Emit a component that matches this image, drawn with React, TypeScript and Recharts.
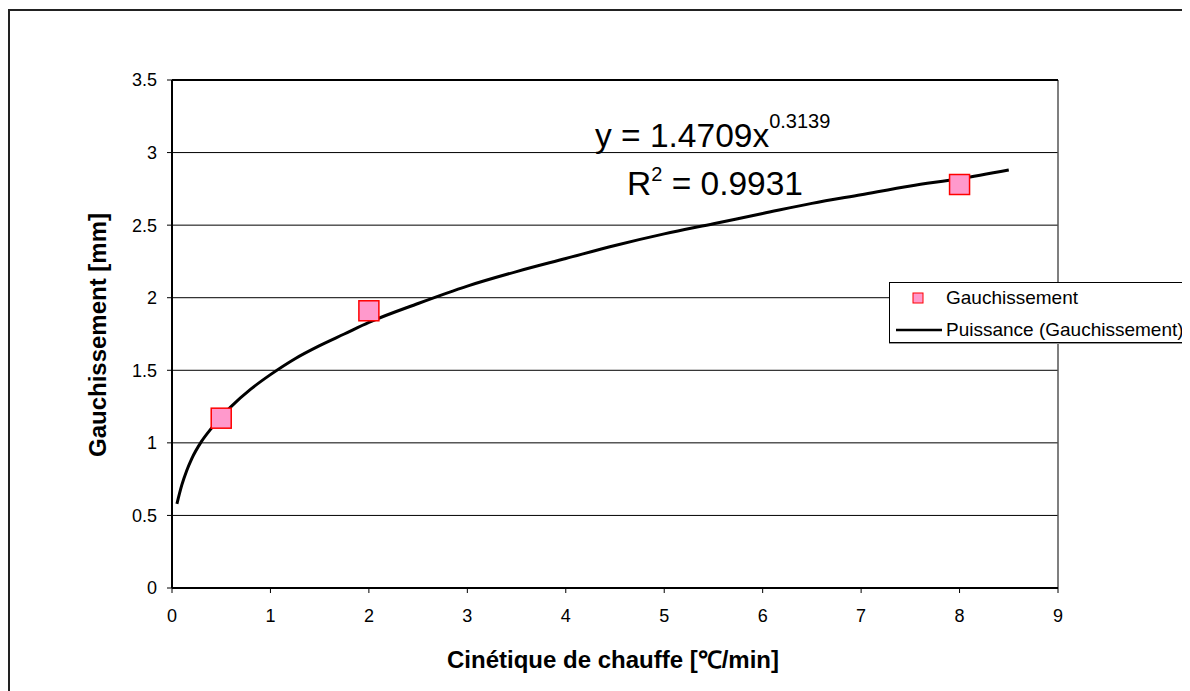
import React from "react";
import { ComposedChart, Line, Scatter, XAxis, YAxis, CartesianGrid, ReferenceLine, Legend } from "recharts";

// measured points
const rateX = [0.5, 2, 8];
const warpY = [1.17, 1.91, 2.78];

// power trend line
const trendX = [0.05, 0.1, 0.15, 0.2, 0.3, 0.4, 0.5, 0.6, 0.8, 1, 1.25, 1.5, 1.75, 2, 2.5, 3, 3.5, 4, 4.5, 5, 5.5, 6, 6.5, 7, 7.5, 8, 8.5];
const trendY = [0.58, 0.71, 0.81, 0.89, 1.01, 1.1, 1.18, 1.25, 1.37, 1.47, 1.58, 1.67, 1.75, 1.83, 1.96, 2.08, 2.18, 2.27, 2.36, 2.44, 2.51, 2.58, 2.65, 2.71, 2.77, 2.82, 2.88];

const xTicks = [0, 1, 2, 3, 4, 5, 6, 7, 8, 9];
const yTicks = [0, 0.5, 1, 1.5, 2, 2.5, 3, 3.5];

const points = rateX.map((x, i) => ({ x, y: warpY[i] }));
const trend = trendX.map((x, i) => ({ x, y: trendY[i] }));

const FONT = "'Liberation Sans', Arial, sans-serif";

const SquareDot = (props: any) => {
  const { cx, cy } = props;
  if (cx == null || cy == null) return null;
  return <rect x={cx - 10} y={cy - 10} width={20} height={20} fill="#ff99cc" stroke="#ff0000" strokeWidth={1.5} />;
};

const LegendBox = () => (
  <div
    style={{
      width: 310,
      height: 61,
      background: "#fff",
      border: "1px solid #000",
      boxShadow: "0 1px 0 #999",
      boxSizing: "border-box",
      fontFamily: FONT,
    }}
  >
    <svg width={310} height={59} style={{ display: "block" }}>
      <rect x={23} y={10} width={10} height={10} fill="#ff99cc" stroke="#ff0000" strokeWidth={1} />
      <text x={56} y={21} fontSize={19} fill="#000">Gauchissement</text>
      <line x1={6} y1={47} x2={52} y2={47} stroke="#000" strokeWidth={2.5} />
      <text x={56} y={53} fontSize={19} fill="#000">Puissance (Gauchissement)</text>
    </svg>
  </div>
);

export default function App() {
  return (
    <div style={{ position: "relative", width: 1182, height: 683, overflow: "hidden", background: "#fff", fontFamily: FONT }}>
      <div style={{ position: "absolute", left: 0, top: 1, width: 1182, height: 2, background: "#222" }} />
      <div style={{ position: "absolute", left: 0, top: 1, width: 2, height: 682, background: "#222" }} />
      <ComposedChart
        width={1182}
        height={683}
        margin={{ top: 72, right: 132, bottom: 63, left: 104 }}
        style={{ position: "absolute", left: 0, top: 0 }}
      >
        <CartesianGrid horizontal vertical={false} stroke="#000" strokeWidth={1} />
        <XAxis
          type="number"
          dataKey="x"
          domain={[0, 9]}
          ticks={xTicks}
          height={40}
          allowDataOverflow
          axisLine={{ stroke: "#000", strokeWidth: 2 }}
          tickLine={{ stroke: "#000" }}
          tickSize={5}
          tickMargin={16}
          tick={{ fill: "#000", fontSize: 18, fontFamily: FONT }}
        />
        <YAxis
          type="number"
          dataKey="y"
          domain={[0, 3.5]}
          ticks={yTicks}
          width={60}
          allowDataOverflow
          axisLine={{ stroke: "#000", strokeWidth: 2 }}
          tickLine={{ stroke: "#000" }}
          tickSize={5}
          tickMargin={10}
          tick={{ fill: "#000", fontSize: 18, fontFamily: FONT }}
        />
        <ReferenceLine x={9} stroke="#555" strokeWidth={1.5} />
        <ReferenceLine y={3.5} stroke="#000" strokeWidth={2} />
        <Line
          data={trend}
          dataKey="y"
          type="monotone"
          stroke="#000"
          strokeWidth={3}
          dot={false}
          isAnimationActive={false}
          name="Puissance (Gauchissement)"
        />
        <Scatter data={points} dataKey="y" shape={<SquareDot />} isAnimationActive={false} name="Gauchissement" />
        <Legend
          verticalAlign="middle"
          align="center"
          content={() => <LegendBox />}
          wrapperStyle={{ position: "absolute", left: 881, top: 274, width: 310, height: 61 }}
        />
      </ComposedChart>
      <svg width={1182} height={683} style={{ position: "absolute", left: 0, top: 0, pointerEvents: "none" }}>
        <text x={587} y={139} fontSize={33.5} fontFamily={FONT} fill="#000">
          y = 1.4709x
          <tspan fontSize={20} dy={-19}>0.3139</tspan>
        </text>
        <text x={619} y={187} fontSize={33.5} fontFamily={FONT} fill="#000">
          R
          <tspan fontSize={20} dy={-14}>2</tspan>
          <tspan dy={14}> = 0.9931</tspan>
        </text>
        <text
          x={98}
          y={327}
          transform="rotate(-90 98 327)"
          textAnchor="middle"
          fontSize={24}
          fontWeight="bold"
          fontFamily={FONT}
          fill="#000"
        >
          Gauchissement [mm]
        </text>
        <text x={605} y={660} textAnchor="middle" fontSize={24} fontWeight="bold" fontFamily={FONT} fill="#000">
          Cinétique de chauffe [℃/min]
        </text>
      </svg>
    </div>
  );
}
